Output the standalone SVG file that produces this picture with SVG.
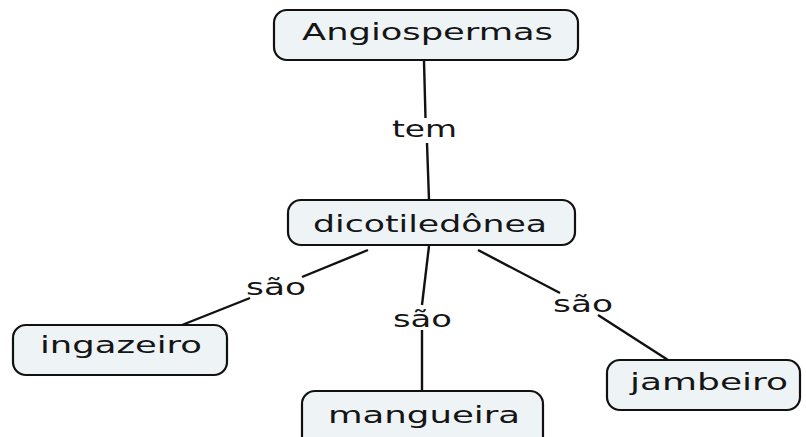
<svg xmlns="http://www.w3.org/2000/svg" width="806" height="437" viewBox="0 0 806 437">
<style>
.node rect{fill:#eef3f6;stroke:#111;stroke-width:2.2}
text{font-family:"DejaVu Sans","Verdana",sans-serif;font-size:23px;fill:#151515}
.conn line{stroke:#111;stroke-width:2.4}
</style>
<rect width="806" height="437" fill="#fff"/>
<g class="conn" id="connectors">
<line x1="424" y1="61" x2="425.5" y2="118"/>
<line x1="427" y1="143" x2="429" y2="200"/>
<line x1="368" y1="250" x2="302" y2="277"/>
<line x1="250" y1="298" x2="182" y2="325"/>
<line x1="429" y1="246" x2="422" y2="305"/>
<line x1="422" y1="330" x2="422" y2="391"/>
<line x1="478" y1="250" x2="560" y2="293"/>
<line x1="598" y1="315" x2="668" y2="360"/>
</g>
<g id="label-tem"><text x="392" y="137" textLength="65" lengthAdjust="spacingAndGlyphs">tem</text></g>
<g id="label-sao-1"><text x="246" y="295" textLength="60" lengthAdjust="spacingAndGlyphs">são</text></g>
<g id="label-sao-2"><text x="393" y="327" textLength="59" lengthAdjust="spacingAndGlyphs">são</text></g>
<g id="label-sao-3"><text x="553" y="312" textLength="60" lengthAdjust="spacingAndGlyphs">são</text></g>
<g class="node" id="angiospermas">
<rect x="274" y="10" width="304" height="50" rx="13"/>
<text x="302" y="40" textLength="251" lengthAdjust="spacingAndGlyphs">Angiospermas</text>
</g>
<g class="node" id="dicotiledonea">
<rect x="288" y="200" width="287" height="45" rx="13"/>
<text x="313" y="232" textLength="234" lengthAdjust="spacingAndGlyphs">dicotiledônea</text>
</g>
<g class="node" id="ingazeiro">
<rect x="13" y="325" width="214" height="50" rx="13"/>
<text x="40" y="353" textLength="162" lengthAdjust="spacingAndGlyphs">ingazeiro</text>
</g>
<g class="node" id="mangueira">
<rect x="302" y="391" width="241" height="60" rx="13"/>
<text x="328" y="423" textLength="192" lengthAdjust="spacingAndGlyphs">mangueira</text>
</g>
<g class="node" id="jambeiro">
<rect x="607" y="360" width="193" height="50" rx="13"/>
<text x="630" y="390" textLength="158" lengthAdjust="spacingAndGlyphs">jambeiro</text>
</g>
</svg>
